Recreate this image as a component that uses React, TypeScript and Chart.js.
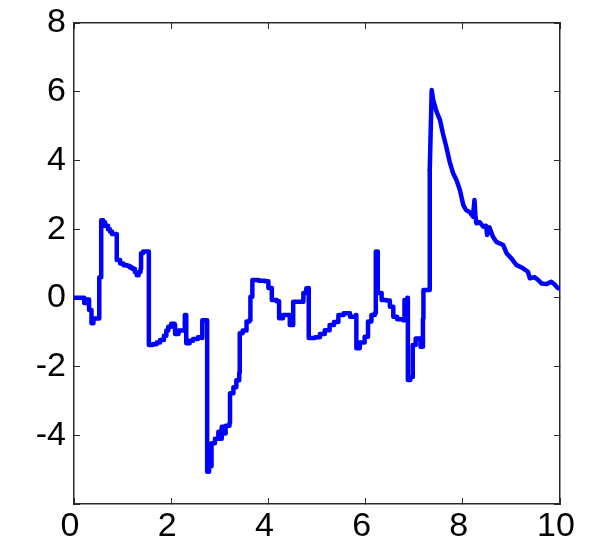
import React, { useEffect, useRef } from "react";
import { Chart, registerables } from "chart.js";

Chart.register(...registerables);

// ---- data ----
// jump part of the path (drawn as stairs)
const jumpT: number[] = [
  0, 0.21, 0.21, 0.26, 0.26, 0.31, 0.31, 0.36, 0.36, 0.4, 0.4, 0.52, 0.52, 0.56, 0.56,
  0.6, 0.64, 0.7, 0.74, 0.78, 0.88, 0.88, 0.95, 1.02, 1.1, 1.15, 1.2, 1.25, 1.29, 1.33, 1.37,
  1.38, 1.42, 1.53, 1.54, 1.62, 1.7, 1.77, 1.85, 1.9, 1.94, 2.0, 2.07, 2.08, 2.15, 2.27,
  2.28, 2.3, 2.31, 2.38, 2.45, 2.55, 2.63, 2.64, 2.73, 2.74, 2.78, 2.83, 2.9, 2.97, 2.99,
  3.04, 3.08, 3.12, 3.2, 3.21, 3.28, 3.34, 3.4, 3.41, 3.47, 3.55, 3.61, 3.63, 3.67, 3.8,
  3.93, 4.0, 4.07, 4.17, 4.21, 4.22, 4.3, 4.41, 4.44, 4.5, 4.51, 4.62, 4.72, 4.78, 4.82,
  4.83, 4.96, 5.06, 5.16, 5.26, 5.35, 5.44, 5.55, 5.68, 5.8, 5.81, 5.88, 5.98, 6.05, 6.12,
  6.19, 6.21, 6.23, 6.25, 6.33, 6.42, 6.5, 6.57, 6.65, 6.77, 6.8, 6.86, 6.87, 6.92, 6.97,
  7.03, 7.11, 7.13, 7.17, 7.18, 7.19, 7.31, 7.32,
];
const jumpY: number[] = [
  0, 0, -0.15, -0.15, -0.05, -0.05, -0.35, -0.35, -0.74, -0.74, -0.6, -0.6, 0.6, 0.6, 2.26,
  2.2, 2.1, 2.0, 1.93, 1.86, 1.86, 1.1, 1.0, 0.95, 0.93, 0.88, 0.85, 0.75, 0.66, 0.75, 0.85,
  1.3, 1.35, 1.35, -1.37, -1.35, -1.3, -1.23, -1.1, -0.95, -0.84, -0.75, -0.78, -1.05, -0.95, -0.94,
  -0.5, -0.5, -1.32, -1.25, -1.2, -1.15, -1.17, -0.65, -0.65, -5.06, -4.9, -4.23, -4.1, -3.9, -4.1,
  -3.75, -3.95, -3.72, -3.64, -2.78, -2.6, -2.4, -2.19, -1.03, -0.95, -0.69, -0.65, 0.03, 0.52, 0.5,
  0.48, 0.29, -0.06, -0.1, -0.1, -0.59, -0.5, -0.5, -0.79, -0.79, -0.11, -0.11, 0.14, 0.28, 0.29,
  -1.17, -1.15, -1.05, -0.94, -0.79, -0.7, -0.5, -0.45, -0.55, -0.5, -1.47, -1.3, -1.13, -0.69, -0.5,
  -0.44, 1.35, 1.35, 0.14, -0.06, -0.08, -0.26, -0.55, -0.62, -0.65, -0.06, 0.0, -2.39, -2.3, -1.37,
  -1.18, -1.18, -1.42, -1.42, -0.6, 0.23, 0.23, 3.72,
];
// decay part of the path after the big jump
const decayT: number[] = [
  7.32, 7.36, 7.39, 7.46, 7.53, 7.59, 7.66, 7.73, 7.8, 7.87, 7.94, 8.01, 8.07, 8.14, 8.21,
  8.24, 8.26, 8.28, 8.35, 8.42, 8.48, 8.5, 8.55, 8.62, 8.69, 8.83, 8.9, 9.0, 9.1, 9.24,
  9.34, 9.38, 9.48, 9.55, 9.62, 9.72, 9.82, 9.88, 9.96, 10,
];
const decayY: number[] = [
  3.72, 6.05, 5.76, 5.42, 5.18, 4.79, 4.4, 3.96, 3.63, 3.43, 3.14, 2.7, 2.55, 2.5, 2.36,
  2.85, 2.4, 2.17, 2.2, 2.07, 2.1, 1.83, 2.05, 1.78, 1.63, 1.54, 1.3, 1.15, 0.96, 0.86,
  0.76, 0.57, 0.6, 0.52, 0.42, 0.4, 0.47, 0.4, 0.28, 0.28,
];
const xTicks: number[] = [0, 2, 4, 6, 8, 10];
const yTicks: number[] = [-6, -4, -2, 0, 2, 4, 6, 8];
const yHiddenLabels: number[] = [-6];

const FONT = "'Liberation Sans', Arial, Helvetica, sans-serif";
const LINE_COLOR = "rgb(0,0,255)";
const AXIS_COLOR = "#2a2a2a";
const TICK_IN = -6; // negative => tick marks point into the plot

const axisGrid = {
  display: true,
  drawOnChartArea: false,
  drawTicks: true,
  tickLength: TICK_IN,
  color: AXIS_COLOR,
  lineWidth: 1,
};
const axisBorder = { display: true, color: AXIS_COLOR, width: 1.5 };

export default function App() {
  const ref = useRef<HTMLCanvasElement | null>(null);
  useEffect(() => {
    if (!ref.current) return;
    const jumpPts = jumpT.map((t, i) => ({ x: t, y: jumpY[i] }));
    const decayPts = decayT.map((t, i) => ({ x: t, y: decayY[i] }));
    const common = {
      borderColor: LINE_COLOR,
      borderWidth: 4.5,
      pointRadius: 0,
      tension: 0,
      fill: false,
      borderJoinStyle: "round" as const,
      borderCapStyle: "round" as const,
    };
    const setXTicks = (scale: any) => {
      scale.ticks = xTicks.map((v) => ({ value: v }));
    };
    const setYTicks = (scale: any) => {
      scale.ticks = yTicks.map((v) => ({ value: v }));
    };
    const chart = new Chart(ref.current, {
      type: "line",
      data: {
        datasets: [
          { ...common, data: jumpPts, stepped: true },
          { ...common, data: decayPts, stepped: false },
        ],
      },
      options: {
        animation: false,
        responsive: false,
        parsing: false as any,
        layout: { padding: { left: 0, right: 40, top: 23, bottom: 0 } },
        plugins: { legend: { display: false }, tooltip: { enabled: false } },
        scales: {
          x: {
            type: "linear",
            position: "bottom",
            min: 0,
            max: 10,
            afterBuildTicks: setXTicks,
            afterFit: (scale: any) => {
              scale.height = 46;
              scale.paddingLeft = 0;
              scale.paddingRight = 0;
            },
            grid: axisGrid,
            border: axisBorder,
            ticks: {
              font: { family: FONT, size: 34 },
              color: "#000",
              padding: 2 - TICK_IN,
              maxRotation: 0,
              autoSkip: false,
              labelOffset: -4,
              callback: (v: any) => String(v),
            },
          },
          x2: {
            type: "linear",
            position: "top",
            min: 0,
            max: 10,
            afterBuildTicks: setXTicks,
            afterFit: (scale: any) => {
              scale.height = 0;
              scale.paddingLeft = 0;
              scale.paddingRight = 0;
            },
            grid: axisGrid,
            border: axisBorder,
            ticks: { display: false },
          },
          y: {
            type: "linear",
            position: "left",
            min: -6,
            max: 8,
            afterBuildTicks: setYTicks,
            afterFit: (scale: any) => {
              scale.width = 74;
              scale.paddingTop = 0;
              scale.paddingBottom = 0;
            },
            grid: axisGrid,
            border: axisBorder,
            ticks: {
              font: { family: FONT, size: 34 },
              color: "#000",
              padding: 8 - TICK_IN,
              autoSkip: false,
              callback: (v: any) => (yHiddenLabels.includes(Number(v)) ? "" : String(v)),
            },
          },
          y2: {
            type: "linear",
            position: "right",
            min: -6,
            max: 8,
            afterBuildTicks: setYTicks,
            afterFit: (scale: any) => {
              scale.width = 0;
              scale.paddingTop = 0;
              scale.paddingBottom = 0;
            },
            grid: axisGrid,
            border: axisBorder,
            ticks: { display: false },
          },
        },
      },
    });
    return () => chart.destroy();
  }, []);
  return (
    <div style={{ position: "absolute", left: 0, top: 0, width: 600, height: 550, background: "#fff" }}>
      <canvas ref={ref} width={600} height={550} style={{ width: 600, height: 550 }} />
    </div>
  );
}
